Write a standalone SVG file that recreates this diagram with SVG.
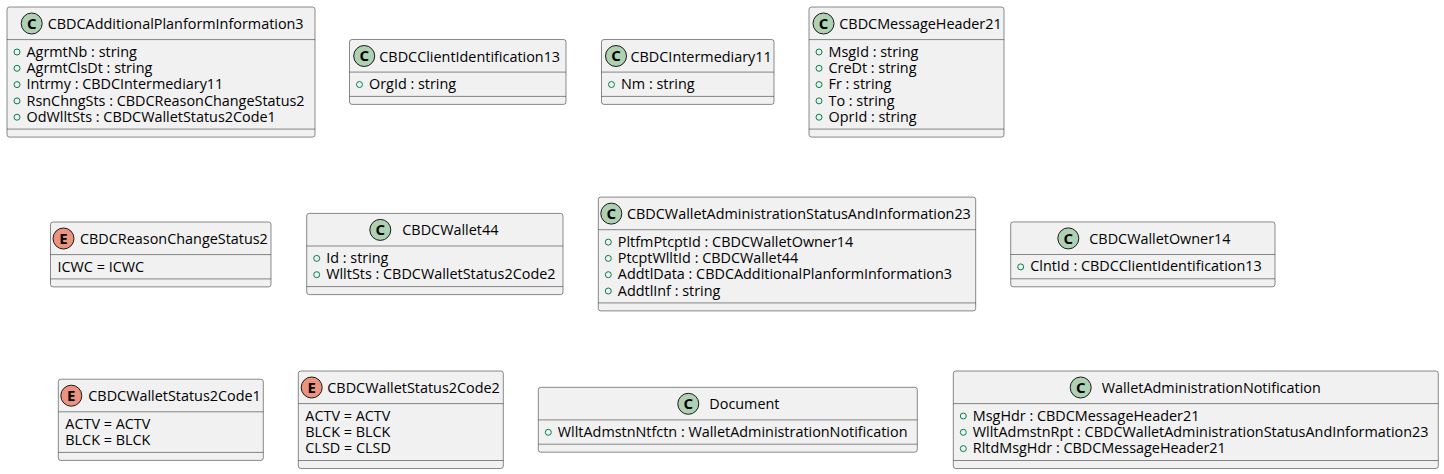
<svg xmlns="http://www.w3.org/2000/svg" width="1444" height="474" viewBox="0 0 1444 474">
<style>
.box{fill:#F1F1F1;stroke:#181818;stroke-width:0.5}
.sep{stroke:#181818;stroke-width:0.5}
.cc{fill:#ADD1B2;stroke:#181818;stroke-width:1}
.ce{fill:#EB937F;stroke:#181818;stroke-width:1}
.t{font-family:"Open Sans","Liberation Sans",sans-serif;font-size:14.4px;fill:#000000}
.g{font-family:"Open Sans","Liberation Sans",sans-serif;font-size:15px;font-weight:bold;fill:#000000;text-anchor:middle}
.vis{fill:none;stroke:#038048;stroke-width:1}
</style>
<rect width="1444" height="474" fill="#FFFFFF"/>
<g id="connectors"/>

<g id="CBDCAdditionalPlanformInformation3" transform="translate(7,7)">
<rect class="box" x="0" y="0" width="308" height="130.1" rx="2.5"/>
<line class="sep" x1="0" y1="32.6" x2="308" y2="32.6"/>
<line class="sep" x1="0" y1="122.1" x2="308" y2="122.1"/>
<circle class="cc" cx="24.7" cy="16.5" r="10.5"/>
<text class="g" x="24.7" y="21.8">C</text>
<text class="t" x="40.7" y="22">CBDCAdditionalPlanformInformation3</text>
<circle class="vis" cx="10" cy="45" r="3"/><text class="t" x="19.5" y="49.6">AgrmtNb : string</text>
<circle class="vis" cx="10" cy="61.3" r="3"/><text class="t" x="19.5" y="65.9">AgrmtClsDt : string</text>
<circle class="vis" cx="10" cy="77.6" r="3"/><text class="t" x="19.5" y="82.2">Intrmy : CBDCIntermediary11</text>
<circle class="vis" cx="10" cy="93.9" r="3"/><text class="t" x="19.5" y="98.5">RsnChngSts : CBDCReasonChangeStatus2</text>
<circle class="vis" cx="10" cy="110.2" r="3"/><text class="t" x="19.5" y="114.8">OdWlltSts : CBDCWalletStatus2Code1</text>
</g>

<g id="CBDCClientIdentification13" transform="translate(349.5,39.5)">
<rect class="box" x="0" y="0" width="216.5" height="64.9" rx="2.5"/>
<line class="sep" x1="0" y1="32.6" x2="216.5" y2="32.6"/>
<line class="sep" x1="0" y1="56.9" x2="216.5" y2="56.9"/>
<circle class="cc" cx="14.7" cy="16.5" r="10.5"/>
<text class="g" x="14.7" y="21.8">C</text>
<text class="t" x="29.8" y="22">CBDCClientIdentification13</text>
<circle class="vis" cx="10" cy="45" r="3"/><text class="t" x="19.5" y="49.6">OrgId : string</text>
</g>

<g id="CBDCIntermediary11" transform="translate(601.5,39.5)">
<rect class="box" x="0" y="0" width="172.5" height="64.9" rx="2.5"/>
<line class="sep" x1="0" y1="32.6" x2="172.5" y2="32.6"/>
<line class="sep" x1="0" y1="56.9" x2="172.5" y2="56.9"/>
<circle class="cc" cx="14.5" cy="16.5" r="10.5"/>
<text class="g" x="14.5" y="21.8">C</text>
<text class="t" x="29" y="22">CBDCIntermediary11</text>
<circle class="vis" cx="10" cy="45" r="3"/><text class="t" x="19.5" y="49.6">Nm : string</text>
</g>

<g id="CBDCMessageHeader21" transform="translate(809,7)">
<rect class="box" x="0" y="0" width="195" height="130.1" rx="2.5"/>
<line class="sep" x1="0" y1="32.6" x2="195" y2="32.6"/>
<line class="sep" x1="0" y1="122.1" x2="195" y2="122.1"/>
<circle class="cc" cx="14.5" cy="16.5" r="10.5"/>
<text class="g" x="14.5" y="21.8">C</text>
<text class="t" x="30.3" y="22">CBDCMessageHeader21</text>
<circle class="vis" cx="10" cy="45" r="3"/><text class="t" x="19.5" y="49.6">MsgId : string</text>
<circle class="vis" cx="10" cy="61.3" r="3"/><text class="t" x="19.5" y="65.9">CreDt : string</text>
<circle class="vis" cx="10" cy="77.6" r="3"/><text class="t" x="19.5" y="82.2">Fr : string</text>
<circle class="vis" cx="10" cy="93.9" r="3"/><text class="t" x="19.5" y="98.5">To : string</text>
<circle class="vis" cx="10" cy="110.2" r="3"/><text class="t" x="19.5" y="114.8">OprId : string</text>
</g>

<g id="CBDCReasonChangeStatus2" transform="translate(50.5,222)">
<rect class="box" x="0" y="0" width="220.5" height="64.9" rx="2.5"/>
<line class="sep" x1="0" y1="32.6" x2="220.5" y2="32.6"/>
<line class="sep" x1="0" y1="56.9" x2="220.5" y2="56.9"/>
<circle class="ce" cx="13" cy="16.5" r="10.5"/>
<text class="g" x="13" y="21.8">E</text>
<text class="t" x="29.5" y="22">CBDCReasonChangeStatus2</text>
<text class="t" x="7" y="49.6">ICWC = ICWC</text>
</g>

<g id="CBDCWallet44" transform="translate(306.7,213.4)">
<rect class="box" x="0" y="0" width="256.3" height="81.2" rx="2.5"/>
<line class="sep" x1="0" y1="32.6" x2="256.3" y2="32.6"/>
<line class="sep" x1="0" y1="73.2" x2="256.3" y2="73.2"/>
<circle class="cc" cx="73.6" cy="16.5" r="10.5"/>
<text class="g" x="73.6" y="21.8">C</text>
<text class="t" x="95.6" y="22">CBDCWallet44</text>
<circle class="vis" cx="10" cy="45" r="3"/><text class="t" x="19.5" y="49.6">Id : string</text>
<circle class="vis" cx="10" cy="61.3" r="3"/><text class="t" x="19.5" y="65.9">WlltSts : CBDCWalletStatus2Code2</text>
</g>

<g id="CBDCWalletAdministrationStatusAndInformation23" transform="translate(598.3,197.1)">
<rect class="box" x="0" y="0" width="377.4" height="113.8" rx="2.5"/>
<line class="sep" x1="0" y1="32.6" x2="377.4" y2="32.6"/>
<line class="sep" x1="0" y1="105.8" x2="377.4" y2="105.8"/>
<circle class="cc" cx="13" cy="16.5" r="10.5"/>
<text class="g" x="13" y="21.8">C</text>
<text class="t" x="28.7" y="22">CBDCWalletAdministrationStatusAndInformation23</text>
<circle class="vis" cx="10" cy="45" r="3"/><text class="t" x="19.5" y="49.6">PltfmPtcptId : CBDCWalletOwner14</text>
<circle class="vis" cx="10" cy="61.3" r="3"/><text class="t" x="19.5" y="65.9">PtcptWlltId : CBDCWallet44</text>
<circle class="vis" cx="10" cy="77.6" r="3"/><text class="t" x="19.5" y="82.2">AddtlData : CBDCAdditionalPlanformInformation3</text>
<circle class="vis" cx="10" cy="93.9" r="3"/><text class="t" x="19.5" y="98.5">AddtlInf : string</text>
</g>

<g id="CBDCWalletOwner14" transform="translate(1010.7,221.9)">
<rect class="box" x="0" y="0" width="264.3" height="64.9" rx="2.5"/>
<line class="sep" x1="0" y1="32.6" x2="264.3" y2="32.6"/>
<line class="sep" x1="0" y1="56.9" x2="264.3" y2="56.9"/>
<circle class="cc" cx="57.6" cy="16.5" r="10.5"/>
<text class="g" x="57.6" y="21.8">C</text>
<text class="t" x="78.6" y="22">CBDCWalletOwner14</text>
<circle class="vis" cx="10" cy="45" r="3"/><text class="t" x="19.5" y="49.6">ClntId : CBDCClientIdentification13</text>
</g>

<g id="CBDCWalletStatus2Code1" transform="translate(58.3,379.2)">
<rect class="box" x="0" y="0" width="205" height="81.2" rx="2.5"/>
<line class="sep" x1="0" y1="32.6" x2="205" y2="32.6"/>
<line class="sep" x1="0" y1="73.2" x2="205" y2="73.2"/>
<circle class="ce" cx="13" cy="16.5" r="10.5"/>
<text class="g" x="13" y="21.8">E</text>
<text class="t" x="30" y="22">CBDCWalletStatus2Code1</text>
<text class="t" x="7" y="49.6">ACTV = ACTV</text>
<text class="t" x="7" y="65.9">BLCK = BLCK</text>
</g>

<g id="CBDCWalletStatus2Code2" transform="translate(298.3,371)">
<rect class="box" x="0" y="0" width="205" height="97.5" rx="2.5"/>
<line class="sep" x1="0" y1="32.6" x2="205" y2="32.6"/>
<line class="sep" x1="0" y1="89.5" x2="205" y2="89.5"/>
<circle class="ce" cx="13.4" cy="16.5" r="10.5"/>
<text class="g" x="13.4" y="21.8">E</text>
<text class="t" x="29" y="22">CBDCWalletStatus2Code2</text>
<text class="t" x="7" y="49.6">ACTV = ACTV</text>
<text class="t" x="7" y="65.9">BLCK = BLCK</text>
<text class="t" x="7" y="82.2">CLSD = CLSD</text>
</g>

<g id="Document" transform="translate(538.3,387.3)">
<rect class="box" x="0" y="0" width="379" height="64.9" rx="2.5"/>
<line class="sep" x1="0" y1="32.6" x2="379" y2="32.6"/>
<line class="sep" x1="0" y1="56.9" x2="379" y2="56.9"/>
<circle class="cc" cx="150" cy="16.5" r="10.5"/>
<text class="g" x="150" y="21.8">C</text>
<text class="t" x="171" y="22">Document</text>
<circle class="vis" cx="10" cy="45" r="3"/><text class="t" x="19.5" y="49.6">WlltAdmstnNtfctn : WalletAdministrationNotification</text>
</g>

<g id="WalletAdministrationNotification" transform="translate(953.3,371)">
<rect class="box" x="0" y="0" width="485" height="97.5" rx="2.5"/>
<line class="sep" x1="0" y1="32.6" x2="485" y2="32.6"/>
<line class="sep" x1="0" y1="89.5" x2="485" y2="89.5"/>
<circle class="cc" cx="127.4" cy="16.5" r="10.5"/>
<text class="g" x="127.4" y="21.8">C</text>
<text class="t" x="148.4" y="22">WalletAdministrationNotification</text>
<circle class="vis" cx="10" cy="45" r="3"/><text class="t" x="19.5" y="49.6">MsgHdr : CBDCMessageHeader21</text>
<circle class="vis" cx="10" cy="61.3" r="3"/><text class="t" x="19.5" y="65.9">WlltAdmstnRpt : CBDCWalletAdministrationStatusAndInformation23</text>
<circle class="vis" cx="10" cy="77.6" r="3"/><text class="t" x="19.5" y="82.2">RltdMsgHdr : CBDCMessageHeader21</text>
</g>
</svg>
